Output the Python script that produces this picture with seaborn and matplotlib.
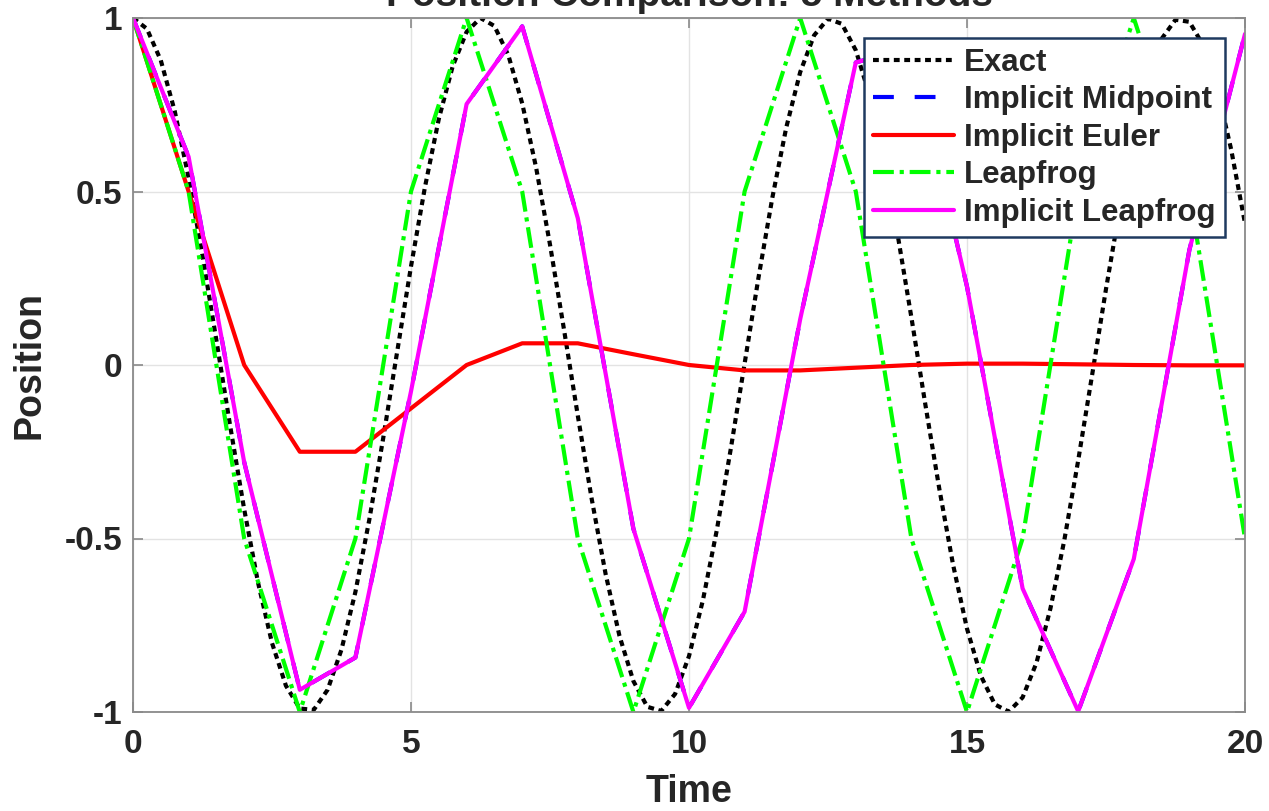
import numpy as np
import pandas as pd
import matplotlib
matplotlib.use("Agg")
import matplotlib.pyplot as plt
import seaborn as sns

# ---------------- data ----------------
t_exact = [i * 0.25 for i in range(81)]
x_exact = [1.000, 0.969, 0.878, 0.732, 0.540, 0.315, 0.071, -0.178, -0.416, -0.628,
           -0.801, -0.924, -0.990, -0.994, -0.936, -0.820, -0.654, -0.446, -0.211, 0.037,
           0.284, 0.512, 0.709, 0.861, 0.960, 1.000, 0.977, 0.893, 0.754, 0.569,
           0.347, 0.104, -0.146, -0.386, -0.602, -0.781, -0.911, -0.985, -0.997, -0.948,
           -0.839, -0.678, -0.476, -0.243, 0.004, 0.252, 0.483, 0.685, 0.844, 0.950,
           0.998, 0.983, 0.907, 0.775, 0.594, 0.378, 0.137, -0.113, -0.355, -0.576,
           -0.760, -0.896, -0.978, -0.999, -0.958, -0.858, -0.702, -0.505, -0.275, -0.029,
           0.219, 0.453, 0.660, 0.826, 0.940, 0.995, 0.989, 0.921, 0.796, 0.622,
           0.408]

t_steps = list(range(21))
x_midpoint = [1.0, 0.6, -0.28, -0.936, -0.843, -0.076, 0.752, 0.976, 0.423, -0.472,
              -0.988, -0.711, 0.132, 0.872, 0.915, 0.226, -0.644, -0.998, -0.559, 0.332,
              0.954]
x_euler = [1.0, 0.5, 0.0, -0.25, -0.25, -0.125, 0.0, 0.0625, 0.0625, 0.031,
           0.0, -0.0156, -0.0156, -0.0078, 0.0, 0.0039, 0.0039, 0.002, 0.0, -0.001,
           -0.001]
x_leapfrog = [1.0, 0.5, -0.5, -1.0, -0.5, 0.5, 1.0, 0.5, -0.5, -1.0,
              -0.5, 0.5, 1.0, 0.5, -0.5, -1.0, -0.5, 0.5, 1.0, 0.5,
              -0.5]
x_imp_leapfrog = [1.0, 0.6, -0.28, -0.936, -0.843, -0.076, 0.752, 0.976, 0.423, -0.472,
                  -0.988, -0.711, 0.132, 0.872, 0.915, 0.226, -0.644, -0.998, -0.559, 0.332,
                  0.954]

labels = ["Exact", "Implicit Midpoint", "Implicit Euler", "Leapfrog", "Implicit Leapfrog"]
x_ticks = [0, 5, 10, 15, 20]
y_ticks = [-1, -0.5, 0, 0.5, 1]
y_tick_labels = ["-1", "-0.5", "0", "0.5", "1"]

# ---------------- style ----------------
sns.set_style("whitegrid")
plt.rcParams["font.family"] = ["Liberation Sans", "DejaVu Sans"]
plt.rcParams["font.weight"] = "bold"
plt.rcParams["axes.labelweight"] = "bold"
plt.rcParams["axes.titleweight"] = "bold"

fig = plt.figure(figsize=(12.69, 8.11), dpi=100)
ax = fig.add_axes([133 / 1269, 1 - 712 / 811, (1245 - 133) / 1269, (712 - 18) / 811])

lw = 3.0
sns.lineplot(x=t_exact, y=x_exact, ax=ax, color="black", linewidth=lw,
             label=labels[0])
ax.lines[-1].set_dashes((1.4, 1.1))
sns.lineplot(x=t_steps, y=x_midpoint, ax=ax, color="#0000ff", linewidth=lw,
             label=labels[1])
ax.lines[-1].set_dashes((5, 5))
sns.lineplot(x=t_steps, y=x_euler, ax=ax, color="#ff0000", linewidth=lw,
             label=labels[2])
sns.lineplot(x=t_steps, y=x_leapfrog, ax=ax, color="#00ff00", linewidth=lw,
             label=labels[3])
ax.lines[-1].set_dashes((5.0, 1.4, 1.0, 1.4))
sns.lineplot(x=t_steps, y=x_imp_leapfrog, ax=ax, color="#ff00ff", linewidth=lw,
             label=labels[4])

ax.set_xlim(0, 20)
ax.set_ylim(-1, 1)
ax.set_xticks(x_ticks)
ax.set_yticks(y_ticks)
ax.set_yticklabels(y_tick_labels)

ax.grid(True, color="#e3e3e3", linewidth=1.0)
for s in ax.spines.values():
    s.set_visible(True)
    s.set_color("#8a8a8a")
    s.set_linewidth(1.3)
ax.tick_params(axis="both", direction="in", length=7, width=1.2, color="#8a8a8a",
               labelsize=24, labelcolor="#262626", pad=8,
               top=True, right=True, bottom=True, left=True)
ax.tick_params(axis="x", pad=12)
for lab in ax.get_xticklabels() + ax.get_yticklabels():
    lab.set_fontweight("bold")

ax.set_xlabel("Time", fontsize=27, color="#262626", labelpad=10)
ax.set_ylabel("Position", fontsize=27, color="#262626", labelpad=12)
ax.set_title("Position Comparison: 5 Methods", fontsize=28, color="#262626", pad=9)

leg = ax.legend(loc="upper right", fontsize=22.5, frameon=True, fancybox=False,
                framealpha=1.0, edgecolor="#1f3a60", labelspacing=0.24,
                handlelength=2.6, handletextpad=0.3, borderpad=0.3,
                borderaxespad=0.65)
leg.get_frame().set_linewidth(1.8)
for txt in leg.get_texts():
    txt.set_color("#262626")
    txt.set_fontweight("bold")

fig.savefig("out.png", dpi=100)
